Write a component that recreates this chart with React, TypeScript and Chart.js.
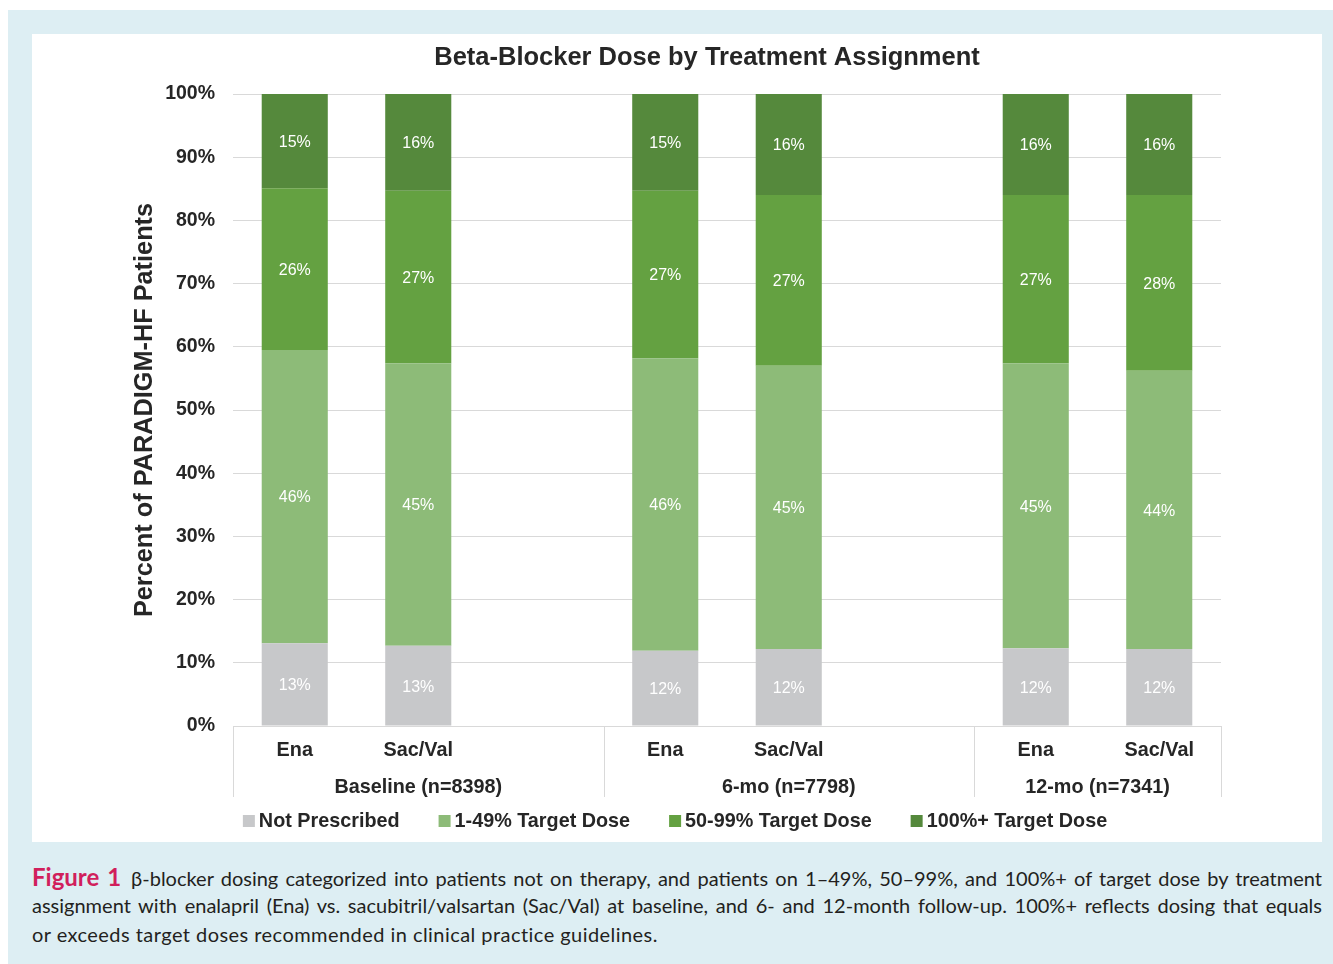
import React, { useEffect, useRef } from "react";
import { Chart, registerables } from "chart.js";

Chart.register(...registerables);

const categories = ["Ena", "Sac/Val", "", "Ena", "Sac/Val", "", "Ena", "Sac/Val"];
const groupLabels = ["Baseline (n=8398)", "6-mo (n=7798)", "12-mo (n=7341)"];
const groupRanges = [[0, 2], [3, 5], [6, 7]];

const seriesNames = ["Not Prescribed", "1-49% Target Dose", "50-99% Target Dose", "100%+ Target Dose"];
const notPrescribed = [13.1, 12.7, null, 11.9, 12.2, null, 12.3, 12.2];
const lowDose = [46.4, 44.7, null, 46.3, 44.8, null, 45.1, 44.0];
const midDose = [25.6, 27.3, null, 26.5, 27.0, null, 26.6, 27.8];
const fullDose = [14.9, 15.3, null, 15.3, 16.0, null, 16.0, 16.0];

const notPrescribedLabels = ["13%", "13%", "", "12%", "12%", "", "12%", "12%"];
const lowDoseLabels = ["46%", "45%", "", "46%", "45%", "", "45%", "44%"];
const midDoseLabels = ["26%", "27%", "", "27%", "27%", "", "27%", "28%"];
const fullDoseLabels = ["15%", "16%", "", "15%", "16%", "", "16%", "16%"];

const yTicks = [0, 10, 20, 30, 40, 50, 60, 70, 80, 90, 100];

const colors = ["#c7c8ca", "#8dbb78", "#64a141", "#55893c"];
const FONT = "'Liberation Sans', Arial, Helvetica, sans-serif";
const TEXT = "#262626";

const chartTitle = "Beta-Blocker Dose by Treatment Assignment";
const yTitle = "Percent of PARADIGM-HF Patients";

const W = 1290;
const H = 808;

export default function App() {
  const ref = useRef<HTMLCanvasElement | null>(null);

  useEffect(() => {
    const canvas = ref.current;
    if (!canvas) return;
    const labelSets = [notPrescribedLabels, lowDoseLabels, midDoseLabels, fullDoseLabels];

    const customDraw = {
      id: "customDraw",
      afterDatasetsDraw(chart: any) {
        const ctx = chart.ctx;
        ctx.save();
        ctx.font = `16px ${FONT}`;
        ctx.fillStyle = "#ffffff";
        ctx.textAlign = "center";
        ctx.textBaseline = "middle";
        chart.data.datasets.forEach((ds: any, di: number) => {
          const meta = chart.getDatasetMeta(di);
          meta.data.forEach((el: any, i: number) => {
            const txt = labelSets[di][i];
            if (!txt || ds.data[i] == null) return;
            ctx.fillText(txt, el.x, (el.y + el.base) / 2 + 1.5);
          });
        });
        ctx.restore();
      },
      afterDraw(chart: any) {
        const ctx = chart.ctx;
        const x = chart.scales.x;
        const area = chart.chartArea;
        ctx.save();
        // title
        ctx.font = `bold 25.5px ${FONT}`;
        ctx.fillStyle = TEXT;
        ctx.textAlign = "center";
        ctx.textBaseline = "middle";
        ctx.fillText(chartTitle, 675, 24);

        // group separators & labels
        const half = (x.getPixelForValue(1) - x.getPixelForValue(0)) / 2;
        ctx.strokeStyle = "#d9d9d9";
        ctx.lineWidth = 1;
        const bounds: number[] = [];
        groupRanges.forEach(([a, b], gi) => {
          const l = x.getPixelForValue(a) - half;
          const r = x.getPixelForValue(b) + half;
          if (gi === 0) bounds.push(l);
          bounds.push(r);
          ctx.font = `bold 19.8px ${FONT}`;
          ctx.fillStyle = TEXT;
          ctx.fillText(groupLabels[gi], (l + r) / 2, area.bottom + 61.5);
        });
        bounds.forEach((bx) => {
          const px = Math.round(bx) + 0.5;
          ctx.beginPath();
          ctx.moveTo(px, area.bottom);
          ctx.lineTo(px, area.bottom + 71);
          ctx.stroke();
        });

        // legend
        ctx.font = `bold 19.8px ${FONT}`;
        ctx.textAlign = "left";
        const widths = seriesNames.map((s) => ctx.measureText(s).width);
        const box = 12;
        const off = 16;
        const gap = 39;
        const total = widths.reduce((s, w) => s + w + off, 0) + gap * (seriesNames.length - 1);
        let lx = 643 - total / 2;
        const ly = 787;
        seriesNames.forEach((s, i) => {
          ctx.fillStyle = colors[i];
          ctx.fillRect(lx, ly - box / 2, box, box);
          ctx.fillStyle = TEXT;
          ctx.fillText(s, lx + off, ly + 1);
          lx += off + widths[i] + gap;
        });
        ctx.restore();
      },
    };

    const data = [notPrescribed, lowDose, midDose, fullDose];
    const chart = new Chart(canvas, {
      type: "bar",
      data: {
        labels: categories,
        datasets: data.map((d, i) => ({
          label: seriesNames[i],
          data: d,
          backgroundColor: colors[i],
          borderWidth: 0,
          stack: "s",
          barPercentage: 0.535,
          categoryPercentage: 1,
        })),
      },
      options: {
        responsive: false,
        animation: false,
        devicePixelRatio: 1,
        layout: { padding: { top: 60, right: 101, bottom: 43, left: 98 } },
        plugins: {
          legend: { display: false },
          title: { display: false },
          tooltip: { enabled: false },
        },
        scales: {
          x: {
            stacked: true,
            grid: { display: false, drawTicks: false },
            border: { display: true, color: "#d9d9d9", width: 1 },
            ticks: {
              font: { family: FONT, size: 19.8, weight: "bold" },
              color: TEXT,
              padding: 13,
              maxRotation: 0,
              autoSkip: false,
            },
            afterFit: (s: any) => {
              s.height = 73;
            },
          },
          y: {
            stacked: true,
            min: 0,
            max: 100,
            afterBuildTicks: (s: any) => {
              s.ticks = yTicks.map((v) => ({ value: v }));
            },
            ticks: {
              font: { family: FONT, size: 19.5, weight: "bold" },
              color: TEXT,
              padding: 18,
              callback: (v: any) => `${v}%`,
            },
            grid: { color: "#d9d9d9", lineWidth: 1, drawTicks: false },
            border: { display: false },
            title: {
              display: true,
              text: yTitle,
              font: { family: FONT, size: 25.3, weight: "bold" },
              color: TEXT,
              padding: { top: 0, bottom: 0 },
            },
            afterFit: (s: any) => {
              s.width = 103;
            },
          },
        },
      },
      plugins: [customDraw],
    });
    return () => chart.destroy();
  }, []);

  const capFont = "Lato, 'Open Sans', sans-serif";
  const lineStyle: React.CSSProperties = {
    whiteSpace: "nowrap",
    height: 29,
    lineHeight: "29px",
  };

  return (
    <div style={{ position: "absolute", left: 0, top: 0, width: 1333, height: 964, background: "#ffffff" }}>
      <div style={{ position: "absolute", left: 8, top: 10, width: 1325, height: 954, background: "#ddeef3" }} />
      <div style={{ position: "absolute", left: 32, top: 34, width: W, height: H, background: "#ffffff" }}>
        <canvas ref={ref} width={W} height={H} style={{ width: W, height: H, display: "block" }} />
      </div>
      <div
        style={{
          position: "absolute",
          left: 32,
          top: 862,
          width: 1290,
          fontFamily: capFont,
          fontSize: 20,
          color: "#231f20",
        }}
      >
        <div style={{ ...lineStyle, textAlign: "justify", textAlignLast: "justify" }}>
          <span style={{ color: "#d11f5c", fontWeight: 700, fontSize: 24 }}>Figure 1</span>
          {"\u2002\u03b2-blocker dosing categorized into patients not on therapy, and patients on 1\u201349%, 50\u201399%, and 100%+ of target dose by treatment"}
        </div>
        <div style={{ ...lineStyle, textAlign: "justify", textAlignLast: "justify" }}>
          assignment with enalapril (Ena) vs. sacubitril/valsartan (Sac/Val) at baseline, and 6- and 12-month follow-up. 100%+ reflects dosing that equals
        </div>
        <div style={{ ...lineStyle, letterSpacing: "0.45px" }}>
          or exceeds target doses recommended in clinical practice guidelines.
        </div>
      </div>
    </div>
  );
}
